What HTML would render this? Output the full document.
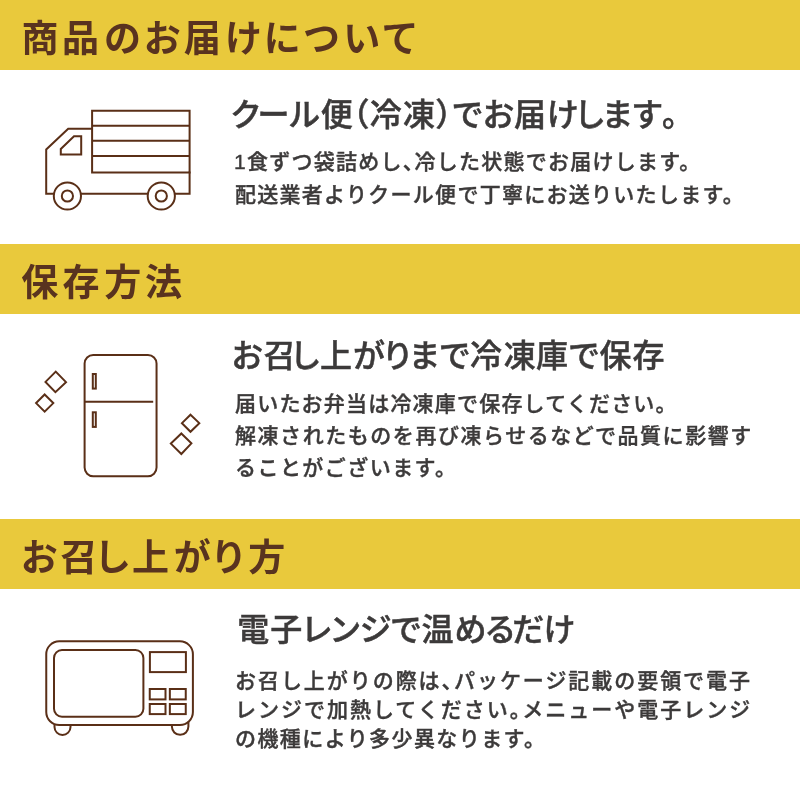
<!DOCTYPE html>
<html lang="ja">
<head>
<meta charset="utf-8">
<title>商品のお届けについて</title>
<style>
  html, body { margin: 0; padding: 0; }
  body {
    width: 800px; height: 800px; overflow: hidden; background: #fff;
    font-family: "Liberation Sans", "Noto Sans CJK JP", sans-serif;
  }
  .page { position: relative; width: 800px; height: 800px; background: #fff; overflow: hidden; }
  .band { position: absolute; left: 0; width: 800px; background: #e9c93c; }
  .b1 { top: 0; height: 70px; }
  .b2 { top: 244px; height: 70px; }
  .b3 { top: 519px; height: 70px; }
  .t { will-change: transform; position: absolute; margin: 0; white-space: nowrap; line-height: 1; }
  .p  { font-weight: 500; color: #3c3a3a; -webkit-text-stroke: 0.4px #3c3a3a; font-feature-settings: "halt"; }
  svg.ov { position: absolute; left: 0; top: 0; width: 800px; height: 800px; will-change: transform; pointer-events: none; }
  svg.ov text { text-anchor: middle; font-family: "Liberation Sans", "Noto Sans CJK JP", sans-serif; }
  svg.ov .h2 { font-weight: 700; fill: #59331f; }
  svg.ov .h3 { font-weight: 500; fill: #3c3a3a; stroke: #3c3a3a; stroke-width: 0.5px; }
  svg.ov .icon * { fill: none; stroke: #5a2f17; stroke-width: 2; stroke-linejoin: miter; stroke-linecap: butt; }
</style>
</head>
<body>
<div class="page">
  <section class="sec s1">
    <div class="band b1"></div>
    <svg class="ov" viewBox="0 0 800 800">
      <text class="h2" id="s1h2" x="40 80.4 122.4 162.2 202.2 243.6 282.3 321.4 361.8 400" y="51.5" font-size="37">商品のお届けについて</text>
      <text class="h3" id="s1h3" x="246 273.5 304.2 336.8 353.5 385.8 419 451.2 467.5 498.5 530 562.8 590 617.5 647.2 678" y="126" font-size="32">クール便（冷凍）でお届けします。</text>
      <g class="icon">
          <path d="M92.1 110.8 H189.6 V172.5 H92.1 Z"/>
          <path d="M189.6 171.5 V193.8 H174.9"/>
          <path d="M92.1 125.8 H189.6 M92.1 140.8 H189.6 M92.1 156 H189.6"/>
          <path d="M92.1 128.8 H68.2 L46.2 149.5 V193.8 H53.9"/>
          <path d="M80.9 193.8 H147.7"/>
          <path d="M60.8 154.5 V149 L74 136.2 H81.2 V154.5 Z"/>
          <circle cx="67.4" cy="196" r="13.6"/>
          <circle cx="67.4" cy="196" r="5.6"/>
          <circle cx="161.3" cy="196" r="13.6"/>
          <circle cx="161.3" cy="196" r="5.6"/>
      </g>
    </svg>
    <p class="t p" id="s1p1" style="left:234px;top:151px;font-size:21px;letter-spacing:1.25px">1食ずつ袋詰めし、冷した状態でお届けします。</p>
    <p class="t p" id="s1p2" style="left:235px;top:183.5px;font-size:21px;letter-spacing:1.28px">配送業者よりクール便で丁寧にお送りいたします。</p>
  </section>
  <section class="sec s2">
    <div class="band b2"></div>
    <svg class="ov" viewBox="0 0 800 800">
      <text class="h2" id="s2h2" x="39.7 80.9 122.7 163.4" y="296" font-size="37">保存方法</text>
      <text class="h3" id="s2h3" x="247.3 279.4 305.6 335.9 368.9 397.8 424.5 454.7 486.1 519.7 552.1 584 615.6 648.5" y="367" font-size="32">お召し上がりまで冷凍庫で保存</text>
      <g class="icon">
          <rect x="84.6" y="354.9" width="71.95" height="121.3" rx="8.6" ry="8.6"/>
          <path d="M84.6 401.8 H153.2"/>
          <rect x="92.8" y="374" width="3" height="14.6"/>
          <rect x="92.8" y="412.3" width="3" height="14.6"/>
          <path d="M55.75 371.6 L66 382.1 L55.4 392.2 L45.5 381.9 Z"/>
          <path d="M44.65 394.5 L53.3 403.1 L44.65 411.7 L36.1 403.1 Z"/>
          <path d="M190.5 414.75 L199.3 423.15 L190.5 431.8 L181.95 423.15 Z"/>
          <path d="M181.35 433.5 L191.4 443.4 L181.35 454.05 L170.85 443.6 Z"/>
      </g>
    </svg>
    <p class="t p" id="s2p1" style="left:235px;top:392.5px;font-size:21px;letter-spacing:1.2px">届いたお弁当は冷凍庫で保存してください。</p>
    <p class="t p" id="s2p2" style="left:235px;top:424.5px;font-size:21px;letter-spacing:1.55px">解凍されたものを再び凍らせるなどで品質に影響す</p>
    <p class="t p" id="s2p3" style="left:235px;top:456.5px;font-size:21px;letter-spacing:1.45px">ることがございます。</p>
  </section>
  <section class="sec s3">
    <div class="band b3"></div>
    <svg class="ov" viewBox="0 0 800 800">
      <text class="h2" id="s3h2" x="39.2 78.7 112.5 150.6 192.3 228.7 266.7" y="570.5" font-size="37">お召し上がり方</text>
      <text class="h3" id="s3h3" x="253.2 286.2 316.8 345.2 375.7 406 437.5 470.6 500.2 528.2 559.5" y="641" font-size="32">電子レンジで温めるだけ</text>
      <g class="icon">
          <rect x="46.25" y="641.3" width="146.65" height="83.7" rx="13" ry="13"/>
          <rect x="54" y="650" width="89.4" height="66.75" rx="8" ry="8"/>
          <rect x="149.9" y="652.1" width="36" height="20"/>
          <rect x="149.75" y="689" width="15.75" height="10.4"/>
          <rect x="169.85" y="689" width="15.9" height="10.4"/>
          <rect x="149.75" y="704" width="15.75" height="10.1"/>
          <rect x="169.85" y="704" width="15.9" height="10.1"/>
          <path d="M54.5 724.3 V727 A8 8 0 0 0 70.5 727 V725"/>
          <path d="M171.9 725 V726.6 A8.25 8.25 0 0 0 188.4 726.6 V722"/>
      </g>
    </svg>
    <p class="t p" id="s3p1" style="left:235px;top:669.5px;font-size:21px;letter-spacing:1.95px">お召し上がりの際は、パッケージ記載の要領で電子</p>
    <p class="t p" id="s3p2" style="left:235px;top:698.5px;font-size:21px;letter-spacing:2.0px">レンジで加熱してください。メニューや電子レンジ</p>
    <p class="t p" id="s3p3" style="left:235px;top:727.5px;font-size:21px;letter-spacing:1.42px">の機種により多少異なります。</p>
  </section>
</div>
</body>
</html>
